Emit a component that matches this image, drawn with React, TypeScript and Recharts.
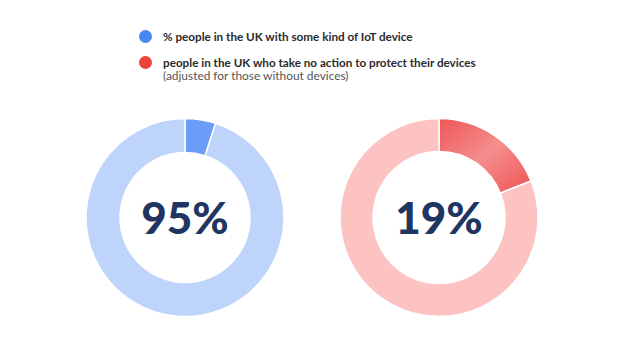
import React from 'react';
import { PieChart, Pie, Cell, Legend } from 'recharts';

const iotSegments = [
  { name: 'highlight', value: 5 },
  { name: 'rest', value: 95 },
];
const actionSegments = [
  { name: 'highlight', value: 19 },
  { name: 'rest', value: 81 },
];
const centerLabels = ['95%', '19%'];
const legendItems = [
  { label: '% people in the UK with some kind of IoT device', sub: '', color: '#4A86F2' },
  {
    label: 'people in the UK who take no action to protect their devices',
    sub: '(adjusted for those without devices)',
    color: '#EC4237',
  },
];

const FONT = 'Lato, "Noto Sans", sans-serif';
const CENTERS = [
  { cx: 185, cy: 217.5 },
  { cx: 439, cy: 217.5 },
];

const LegendContent = () => (
  <div style={{ fontFamily: FONT }}>
    {legendItems.map((it, i) => (
      <div key={i} style={{ display: 'flex', alignItems: 'flex-start', marginBottom: i === 0 ? 12 : 0 }}>
        <span
          style={{
            width: 13,
            height: 13,
            borderRadius: '50%',
            background: it.color,
            display: 'inline-block',
            marginTop: 0.5,
            marginRight: 11,
            flexShrink: 0,
          }}
        />
        <div>
          <div style={{ fontSize: 11.7, fontWeight: 700, color: '#2b2b2b', lineHeight: '14px' }}>{it.label}</div>
          {it.sub && (
            <div style={{ fontSize: 11.9, fontWeight: 400, color: '#555', lineHeight: '13px' }}>
              {it.sub}
            </div>
          )}
        </div>
      </div>
    ))}
  </div>
);

export default function App() {
  return (
    <div style={{ position: 'absolute', left: 0, top: 0, width: 624, height: 352, background: '#fff' }}>
      <PieChart width={624} height={352} margin={{ top: 0, right: 0, bottom: 0, left: 0 }}>
        <defs>
          <linearGradient id="redGrad" x1="0" y1="0" x2="1" y2="1">
            <stop offset="0%" stopColor="#EE5656" />
            <stop offset="50%" stopColor="#F58E8E" />
            <stop offset="100%" stopColor="#EF5252" />
          </linearGradient>
        </defs>
        <Legend
          content={<LegendContent />}
          wrapperStyle={{ position: 'absolute', left: 139, top: 29, width: 420 }}
        />
        <Pie
          data={iotSegments}
          dataKey="value"
          cx={CENTERS[0].cx}
          cy={CENTERS[0].cy}
          innerRadius={65}
          outerRadius={99}
          startAngle={90}
          endAngle={-270}
          stroke="#ffffff"
          strokeWidth={1.5}
          isAnimationActive={false}
        >
          <Cell fill="#6A9DF7" />
          <Cell fill="#BED4FA" />
        </Pie>
        <Pie
          data={actionSegments}
          dataKey="value"
          cx={CENTERS[1].cx}
          cy={CENTERS[1].cy}
          innerRadius={66}
          outerRadius={99}
          startAngle={90}
          endAngle={-270}
          stroke="#ffffff"
          strokeWidth={1.5}
          isAnimationActive={false}
        >
          <Cell fill="url(#redGrad)" />
          <Cell fill="#FDC2C2" />
        </Pie>
      </PieChart>
      {centerLabels.map((t, i) => (
        <div
          key={i}
          style={{
            position: 'absolute',
            left: CENTERS[i].cx - 80,
            top: CENTERS[i].cy - 31,
            width: 160,
            height: 60,
            lineHeight: '60px',
            textAlign: 'center',
            fontFamily: FONT,
            fontSize: 44,
            fontWeight: 900,
            color: '#1F3562',
          }}
        >
          {t}
        </div>
      ))}
    </div>
  );
}
